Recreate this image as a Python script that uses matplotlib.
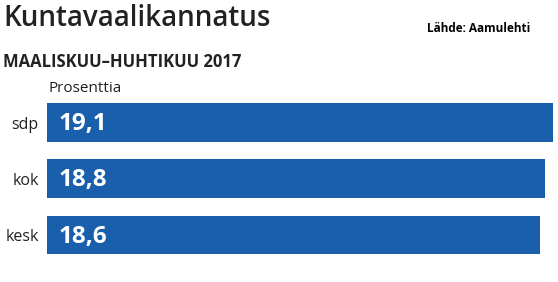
import matplotlib
matplotlib.use("Agg")
from matplotlib import pyplot as plt

### data ###

parties = ["sdp", "kok", "kesk"]
support = [19.1, 18.8, 18.6]
value_labels = ["19,1", "18,8", "18,6"]

BLUE = "#1a5fab"
DARK = "#222222"

### figure ###

plt.rcParams['font.family'] = ['Open Sans', 'DejaVu Sans']

fig = plt.figure(figsize=(5.58, 2.82), dpi=100)
ax = fig.add_axes([47/558, 1 - 263/282, 506/558, (263 - 94.5)/282])

ypos = list(range(len(parties)))
ax.barh(ypos, support, height=0.69, color=BLUE)
ax.set_xlim(0, 19.1)
ax.set_ylim(2.5, -0.5)

for y, lab in zip(ypos, value_labels):
    ax.text(0.42, y + 0.03, lab, color="white", fontsize=17.5, fontweight="bold",
            va="center", ha="left")

ax.set_yticks(ypos)
ax.set_yticklabels(parties, fontsize=11.5, color=DARK)
ax.tick_params(axis="y", length=0, pad=6)
ax.set_xticks([])
for s in ax.spines.values():
    s.set_visible(False)

fig.text(3/558, 1 - 19/282, "Kuntavaalikannatus", fontsize=20, fontweight="semibold",
         color=DARK, va="center", ha="left")
fig.text(3/558, 1 - 62/282, "MAALISKUU\u2013HUHTIKUU 2017", fontsize=12, fontweight="bold",
         color=DARK, va="center", ha="left")
fig.text(48/558, 1 - 89/282, "Prosenttia", fontsize=11, color=DARK,
         va="center", ha="left")
fig.text(427/558, 1 - 29/282, "Lähde: Aamulehti", fontsize=8.5, fontweight="bold",
         color="black", va="center", ha="left")

fig.savefig("out.png", dpi=100)
